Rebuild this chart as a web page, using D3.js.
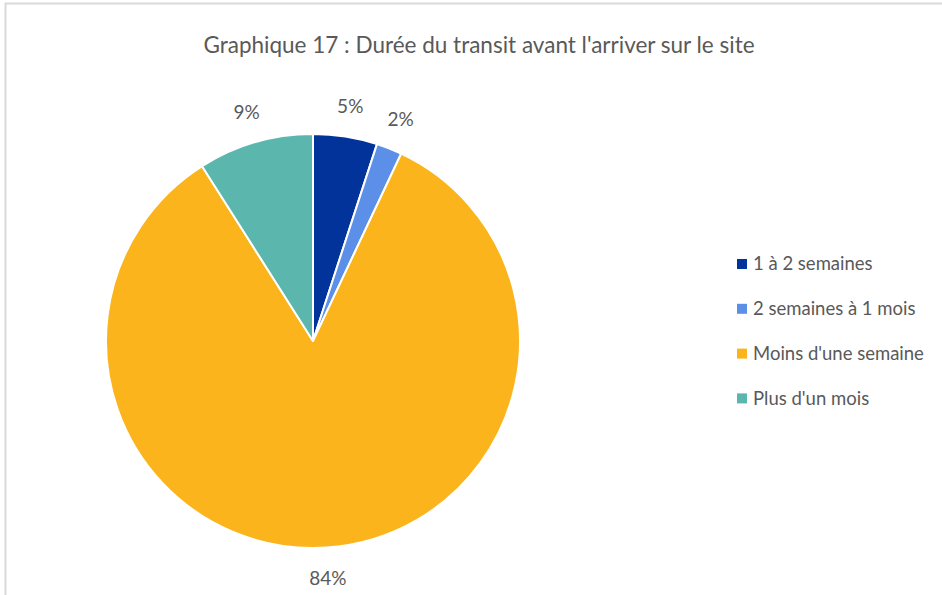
<!DOCTYPE html>
<html>
<head>
<meta charset="utf-8">
<script src="https://cdn.jsdelivr.net/npm/d3@7"></script>
<style>
  body { margin: 0; background: #fff; }
  svg { display: block; font-family: Lato, 'Open Sans', sans-serif; }
</style>
</head>
<body>
<svg id="chart" width="942" height="595"></svg>
<script>
const categories = ['1 à 2 semaines', '2 semaines à 1 mois', "Moins d'une semaine", "Plus d'un mois"];
const values = [5, 2, 84, 9];
const labels = ['5%', '2%', '84%', '9%'];
const colors = ['#01339b', '#5b8fe8', '#fbb41b', '#5bb6ae'];

const svg = d3.select('#chart');
const width = 942;
const height = 595;

// frame
svg.append('path')
  .attr('d', `M5.5,${height} V3.5 H${width}`)
  .attr('fill', 'none')
  .attr('stroke', '#d9d9d9')
  .attr('stroke-width', 2);

svg.append('text')
  .attr('x', 479)
  .attr('y', 53)
  .attr('text-anchor', 'middle')
  .attr('fill', '#595959')
  .attr('font-size', 22.5)
  .text("Graphique 17 : Durée du transit avant l'arriver sur le site");

const cx = 313;
const cy = 341;
const radius = 207;

const pie = d3.pie().sort(null).value(d => d.value);
const arcs = pie(values.map((v, i) => ({ value: v, i })));

const arc = d3.arc().innerRadius(0).outerRadius(radius);
const labelArc = d3.arc().innerRadius(radius + 31).outerRadius(radius + 31);

const g = svg.append('g').attr('transform', `translate(${cx},${cy})`);

g.selectAll('path')
  .data(arcs)
  .join('path')
  .attr('d', arc)
  .attr('fill', d => colors[d.data.i])
  .attr('stroke', '#fff')
  .attr('stroke-width', 2)
  .attr('stroke-linejoin', 'round');

g.selectAll('text')
  .data(arcs)
  .join('text')
  .attr('transform', d => `translate(${labelArc.centroid(d)})`)
  .attr('text-anchor', 'middle')
  .attr('dy', '0.35em')
  .attr('fill', '#595959')
  .attr('font-size', 19)
  .text(d => labels[d.data.i]);

// legend
const legend = svg.append('g').attr('transform', 'translate(737,264)');
const item = legend.selectAll('g')
  .data(categories)
  .join('g')
  .attr('transform', (d, i) => `translate(0,${i * 44.8})`);

item.append('rect')
  .attr('x', 0)
  .attr('y', -5)
  .attr('width', 10)
  .attr('height', 10)
  .attr('fill', (d, i) => colors[i]);

item.append('text')
  .attr('x', 16)
  .attr('dy', '0.35em')
  .attr('fill', '#595959')
  .attr('font-size', 18.5)
  .text(d => d);
</script>
</body>
</html>
